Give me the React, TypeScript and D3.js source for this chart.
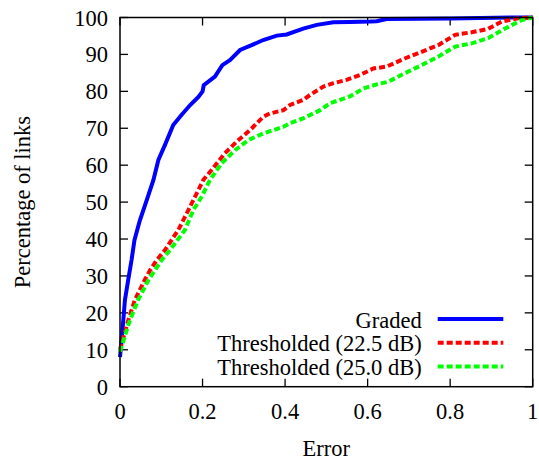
import React from "react";
import * as d3 from "d3";

// Cumulative distribution of link error for each estimation scheme
const gradedError = [0, 0.004, 0.008, 0.012, 0.02, 0.028, 0.035, 0.048, 0.065, 0.081, 0.093, 0.109, 0.129, 0.149, 0.17, 0.19, 0.2, 0.203, 0.23, 0.248, 0.26, 0.267, 0.291, 0.319, 0.347, 0.38, 0.404, 0.444, 0.477, 0.517, 0.557, 0.606, 0.622, 0.646, 0.8, 0.95, 1];
const gradedPct = [8, 13, 18, 23.5, 29, 34.3, 39.7, 45, 50.6, 56, 61.4, 65.5, 70.9, 73.6, 76.3, 78.5, 80, 81.7, 84, 87.1, 88, 88.5, 91.2, 92.5, 93.9, 95.1, 95.4, 97, 98, 98.7, 98.8, 98.9, 99, 99.6, 99.7, 100, 100];

const thr225Error = [0, 0.02, 0.036, 0.06, 0.073, 0.089, 0.109, 0.141, 0.166, 0.182, 0.202, 0.222, 0.254, 0.283, 0.315, 0.347, 0.363, 0.396, 0.412, 0.444, 0.46, 0.493, 0.517, 0.549, 0.581, 0.614, 0.646, 0.69, 0.731, 0.771, 0.812, 0.852, 0.892, 0.925, 0.965, 1];
const thr225Pct = [10, 18, 23.5, 28.9, 31.6, 34.3, 37, 42.4, 47.9, 51.5, 56, 58.7, 63.2, 66.4, 69.5, 73.1, 74, 74.9, 76.3, 77.7, 79, 81.3, 82.2, 83.1, 84.4, 86.2, 86.7, 88.9, 90.7, 92.5, 95.3, 96, 96.9, 98.9, 99.8, 100];

const thr250Error = [0, 0.024, 0.044, 0.069, 0.085, 0.101, 0.121, 0.157, 0.178, 0.198, 0.218, 0.246, 0.279, 0.311, 0.347, 0.396, 0.412, 0.444, 0.485, 0.509, 0.533, 0.557, 0.59, 0.622, 0.65, 0.69, 0.731, 0.771, 0.812, 0.852, 0.892, 0.933, 0.973, 1];
const thr250Pct = [9.5, 18, 23.5, 28.9, 31.6, 34.3, 37, 42.4, 47.9, 51.5, 56, 60.5, 64.1, 66.8, 68.6, 70.4, 71.4, 72.7, 74.9, 76.8, 77.7, 78.6, 80.8, 81.9, 82.6, 84.9, 87.1, 89.4, 92.1, 93, 94.4, 97, 99.3, 100];

const seriesNames = ["Graded", "Thresholded (22.5 dB)", "Thresholded (25.0 dB)"];
const xTicks = [0, 0.2, 0.4, 0.6, 0.8, 1];
const yTicks = [0, 10, 20, 30, 40, 50, 60, 70, 80, 90, 100];

const W = 539;
const H = 465;
const plot = { left: 120, right: 532.7, top: 17.5, bottom: 386.7 };
const FONT =
  '"Liberation Serif", "Times New Roman", Times, "Nimbus Roman", Tinos, "Noto Serif", "DejaVu Serif", serif';
const FS = 22.5;
const TICK = 8;
const textStyle: React.CSSProperties = { fontFamily: FONT, fontSize: FS };

export default function App() {
  const x = d3.scaleLinear().domain([0, 1]).range([plot.left, plot.right]);
  const y = d3.scaleLinear().domain([0, 100]).range([plot.bottom, plot.top]);
  const line = d3
    .line<[number, number]>()
    .x((d) => x(d[0]))
    .y((d) => y(d[1]));

  const series = [
    { name: seriesNames[0], e: gradedError, p: gradedPct, color: "#0000ff", dash: undefined as string | undefined },
    { name: seriesNames[1], e: thr225Error, p: thr225Pct, color: "#ff0000", dash: "6,3" },
    { name: seriesNames[2], e: thr250Error, p: thr250Pct, color: "#00ff00", dash: "6,3" },
  ];

  const fmtX = (v: number) => (v === 0 || v === 1 ? String(v) : v.toFixed(1));

  return (
    <svg
      width={W}
      height={H}
      style={{ position: "absolute", left: 0, top: 0, background: "#fff", fontFamily: FONT }}
    >
      {/* ticks on all four sides, pointing inward */}
      {yTicks.map((t) => (
        <g key={"y" + t}>
          <line x1={plot.left} x2={plot.left + TICK} y1={y(t)} y2={y(t)} stroke="#000" strokeWidth={1.3} />
          <line x1={plot.right} x2={plot.right - TICK} y1={y(t)} y2={y(t)} stroke="#000" strokeWidth={1.3} />
          <text x={plot.left - 12} y={y(t) + 8} style={textStyle} textAnchor="end">
            {t}
          </text>
        </g>
      ))}
      {xTicks.map((t) => (
        <g key={"x" + t}>
          <line x1={x(t)} x2={x(t)} y1={plot.bottom} y2={plot.bottom - TICK} stroke="#000" strokeWidth={1.3} />
          <line x1={x(t)} x2={x(t)} y1={plot.top} y2={plot.top + TICK} stroke="#000" strokeWidth={1.3} />
          <text x={x(t)} y={419} style={textStyle} textAnchor="middle">
            {fmtX(t)}
          </text>
        </g>
      ))}

      {/* curves */}
      {series.map((s) => (
        <path
          key={s.name}
          d={line(s.e.map((e, i) => [e, s.p[i]] as [number, number])) || ""}
          fill="none"
          stroke={s.color}
          strokeWidth={4}
          strokeDasharray={s.dash}
        />
      ))}

      {/* frame */}
      <rect
        x={plot.left}
        y={plot.top}
        width={plot.right - plot.left}
        height={plot.bottom - plot.top}
        fill="none"
        stroke="#000"
        strokeWidth={1.5}
      />

      {/* legend */}
      {series.map((s, i) => (
        <g key={"leg" + s.name}>
          <text x={421.7} y={327.5 + i * 23.7} style={textStyle} textAnchor="end">
            {s.name}
          </text>
          <line
            x1={437.7}
            x2={503.3}
            y1={319 + i * 23.7}
            y2={319 + i * 23.7}
            stroke={s.color}
            strokeWidth={4}
            strokeDasharray={s.dash}
          />
        </g>
      ))}

      {/* axis titles */}
      <text x={(plot.left + plot.right) / 2} y={456} style={textStyle} textAnchor="middle">
        Error
      </text>
      <text
        transform={`translate(30, ${(plot.top + plot.bottom) / 2}) rotate(-90)`}
        style={textStyle}
        textAnchor="middle"
      >
        Percentage of links
      </text>
    </svg>
  );
}
